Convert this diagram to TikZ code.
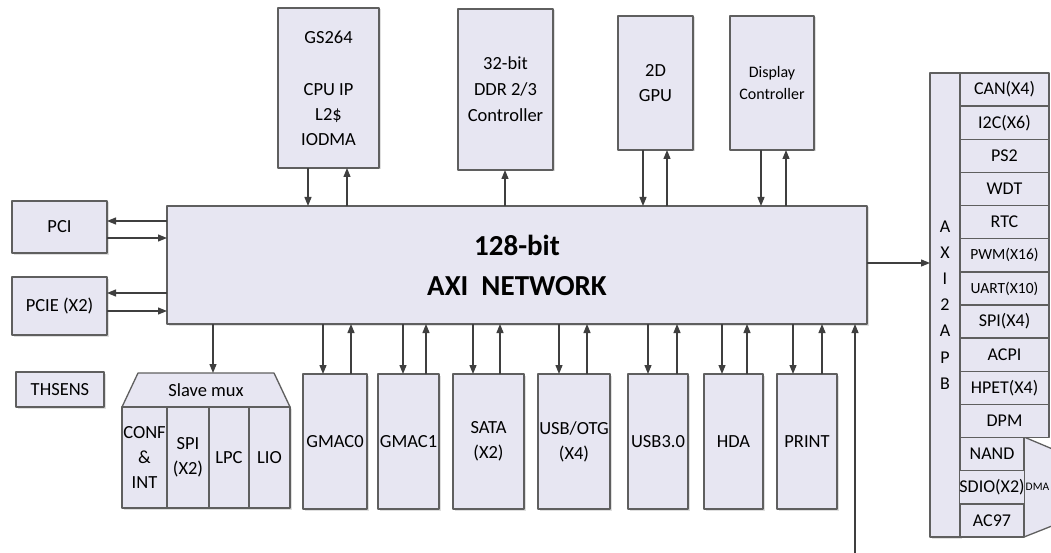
\documentclass[tikz,border=0pt]{standalone}
\usepackage{fontspec}
\setmainfont{Carlito}
\usetikzlibrary{arrows.meta,shadows}
\definecolor{blockfill}{HTML}{E7E6F2}
\definecolor{blockedge}{HTML}{5F5F5F}
\definecolor{busarrow}{HTML}{3F3F3F}
\newcommand\apbsmall{\fontsize{15.5}{18}\selectfont}

\begin{document}
\begin{tikzpicture}[
  x=1pt,
  y=-1pt,
  line join=round,
  blk/.style={draw=blockedge,fill=blockfill,line width=1.3pt,inner sep=0pt,outer sep=0pt,
    align=center,font=\fontsize{18.5}{25}\selectfont,
    drop shadow={shadow xshift=1.5pt,shadow yshift=-1.5pt,opacity=0.25}},
  flat/.style={draw=blockedge,fill=blockfill,line width=1.3pt,inner sep=0pt,outer sep=0pt,
    align=center,font=\fontsize{18}{25}\selectfont},
  arr/.style={draw=busarrow,line width=1.2pt,-{Triangle[length=9pt,width=7pt]}}
]
  \useasboundingbox (0,0) rectangle (1051,553);

  % Central interconnect.
  \node[blk,minimum width=700,minimum height=118,font=\fontsize{29}{40}\selectfont\bfseries]
    (axi) at (517,265) {128-bit\\AXI\hspace{0.45em}NETWORK};

  % Masters and memory above the bus.
  \node[blk,minimum width=101,minimum height=160] (gs) at (328.5,88)
    {GS264\\[27pt]CPU IP\\L2\$\\IODMA};
  \node[blk,minimum width=95,minimum height=161,font=\fontsize{18.5}{26}\selectfont]
    (ddr) at (505.5,89.5) {32-bit\\DDR 2/3\\Controller};
  \node[blk,minimum width=75,minimum height=134] (gpu) at (655.5,83) {2D\\GPU};
  \node[blk,minimum width=84,minimum height=134,font=\fontsize{16}{22}\selectfont]
    (disp) at (772,83) {Display\\Controller};

  \draw[arr] (gs.south -| 308,0) -- (axi.north -| 308,0);
  \draw[arr] (axi.north -| 347,0) -- (gs.south -| 347,0);
  \draw[arr] (axi.north -| 505,0) -- (ddr.south -| 505,0);
  \draw[arr] (gpu.south -| 643,0) -- (axi.north -| 643,0);
  \draw[arr] (axi.north -| 667,0) -- (gpu.south -| 667,0);
  \draw[arr] (disp.south -| 761,0) -- (axi.north -| 761,0);
  \draw[arr] (axi.north -| 786,0) -- (disp.south -| 786,0);

  % PCI side.
  \node[blk,minimum width=95,minimum height=52] (pci) at (59.5,227) {PCI};
  \node[blk,minimum width=95,minimum height=58] (pcie) at (59.5,306) {PCIE (X2)};
  \node[blk,minimum width=88,minimum height=35] (thsens) at (60,389.5) {THSENS};

  \draw[arr] (axi.west |- 0,221) -- (pci.east |- 0,221);
  \draw[arr] (pci.east |- 0,238) -- (axi.west |- 0,238);
  \draw[arr] (axi.west |- 0,293) -- (pcie.east |- 0,293);
  \draw[arr] (pcie.east |- 0,311) -- (axi.west |- 0,311);

  % Slave mux and its low speed ports.
  \path[draw=blockedge,fill=blockfill,line width=1.3pt,
    drop shadow={shadow xshift=1.5pt,shadow yshift=-1.5pt,opacity=0.25}]
    (138,373) -- (274,373) -- (290,407) -- (122,407) -- cycle;
  \coordinate (muxtop) at (213,373);
  \node[font=\fontsize{18.5}{25}\selectfont,inner sep=0pt] (mux) at (206,390) {Slave mux};
  \foreach \nm/\cx/\w/\txt in {conf/144.5/45/{CONF\\\&\\INT},spi/188/42/{SPI\\(X2)},
                               lpc/229/40/LPC,lio/269.5/41/LIO} {
    \node[blk,minimum width=\w,minimum height=101] (\nm) at (\cx,457.5) {\txt};
  }
  \draw[arr] (axi.south -| muxtop) -- (muxtop);

  % Bus masters below the interconnect.
  \foreach \nm/\cx/\w/\txt/\dx/\ux in {gmacA/335/64/GMAC0/323/351,
                                      gmacB/408.5/61/GMAC1/403/426,
                                      sata/488.5/71/{SATA\\(X2)}/473/500,
                                      usbotg/574/72/{USB/OTG\\(X4)}/559/587,
                                      usbiii/658/60/USB3.0/648/677,
                                      hda/733.5/59/HDA/722/747,
                                      print/807/60/PRINT/793/822} {
    \node[blk,minimum width=\w,minimum height=135] (\nm) at (\cx,441.5) {\txt};
    \draw[arr] (axi.south -| \dx,0) -- (\nm.north -| \dx,0);
    \draw[arr] (\nm.north -| \ux,0) -- (axi.south -| \ux,0);
  }

  % Input coming from below the page.
  \coordinate (extin) at (855,553);
  \draw[arr] (extin) -- (extin |- axi.south);

  % AXI to APB bridge and its peripherals.
  \node[blk,minimum width=30,minimum height=464,font=\fontsize{18}{26.2}\selectfont]
    (apb) at (945,305) {A\\X\\I\\2\\A\\P\\B};
  \draw[arr] (axi.east |- 0,263) -- (apb.west |- 0,263);

  \path[draw=blockedge,fill=blockfill,line width=1.3pt]
    (1024,437) -- (1062,453) -- (1062,522) -- (1024,537) -- cycle;
  \node[anchor=west,inner sep=0pt,font=\fontsize{11.5}{12}\selectfont] (dma) at (1025.5,487) {DMA};

  \foreach \lbl [count=\i from 0] in {CAN(X4),I2C(X6),PS2,WDT,RTC,{\apbsmall PWM(X16)},
                                     {\apbsmall UART(X10)},SPI(X4),ACPI,HPET(X4),DPM} {
    \node[flat,minimum width=89,minimum height=33.14] (apb\i) at (1004.5,{73+33.143*(\i+0.5)}) {\lbl};
  }
  \foreach \lbl [count=\i from 11] in {NAND,SDIO(X2),AC97} {
    \node[flat,minimum width=64,minimum height=33.14] (apb\i) at (992,{73+33.143*(\i+0.5)}) {\lbl};
  }
\end{tikzpicture}
\end{document}
